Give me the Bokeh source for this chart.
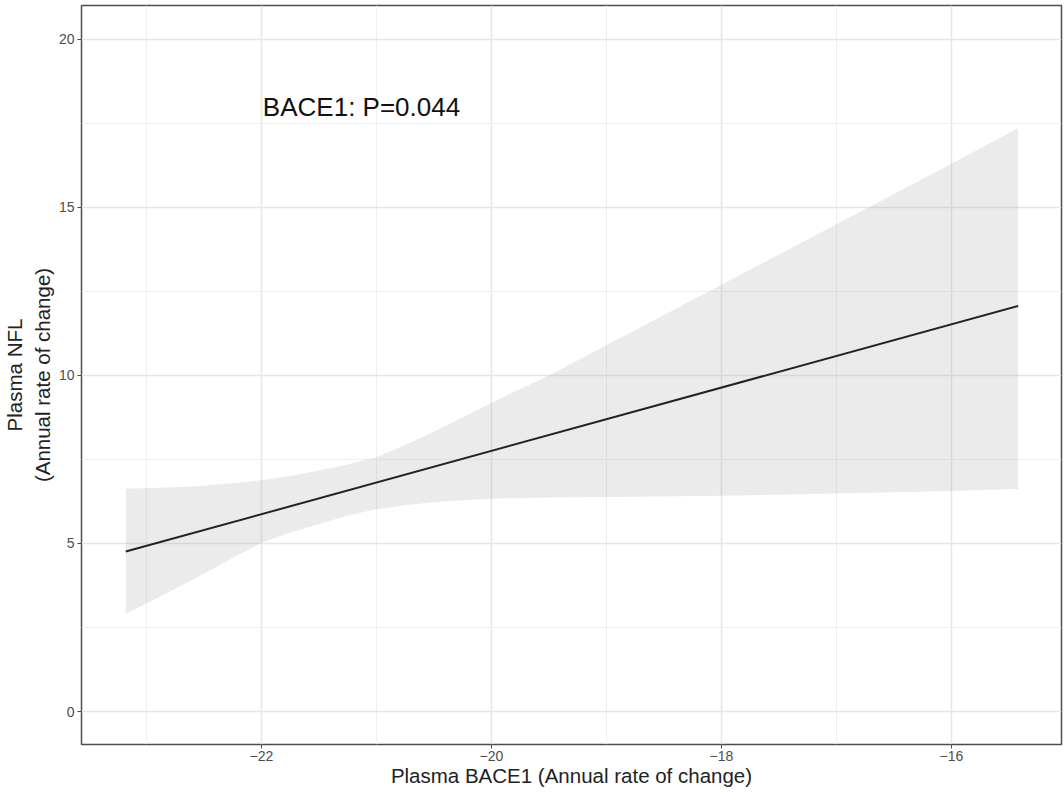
from bokeh.plotting import figure
from bokeh.models import ColumnDataSource, FixedTicker, Range1d, Label
from bokeh.embed import file_html
from bokeh.resources import INLINE

# ---- data ----
band_x = [-23.18, -22.75, -22.5, -22.25, -22.0, -21.75, -21.5, -21.25, -21.0, -20.75, -20.5,
          -20.25, -20.0, -19.5, -19.0, -18.0, -17.0, -16.0, -15.42]
band_upper = [6.63, 6.67, 6.72, 6.79, 6.88, 7.01, 7.17, 7.35, 7.57, 7.93, 8.33,
              8.75, 9.19, 10.0, 10.9, 12.7, 14.5, 16.3, 17.36]
band_lower = [2.91, 3.65, 4.1, 4.57, 5.02, 5.33, 5.58, 5.83, 6.02, 6.14, 6.23,
              6.29, 6.33, 6.37, 6.38, 6.42, 6.49, 6.56, 6.62]

fit_x = [-23.18, -15.42]
fit_y = [4.76, 12.07]

x_ticks = [-22, -20, -18, -16]
x_minor = [-23, -21, -19, -17, -15]
y_ticks = [0, 5, 10, 15, 20]
y_minor = [2.5, 7.5, 12.5, 17.5]

annotation = "BACE1: P=0.044"
x_title = "Plasma BACE1 (Annual rate of change)"
y_title = "Plasma NFL\n(Annual rate of change)"

p = figure(width=1064, height=798, output_backend="svg", toolbar_location=None,
           x_range=Range1d(-23.565, -15.043), y_range=Range1d(-0.982, 21.01),
           min_border_left=81, min_border_right=3, min_border_top=5, min_border_bottom=54)

p.background_fill_color = "white"
p.border_fill_color = "white"
p.outline_line_color = "#4d4d4d"
p.outline_line_width = 1.5

# confidence band
src = ColumnDataSource(dict(x=band_x, upper=band_upper, lower=band_lower))
p.varea(x="x", y1="lower", y2="upper", source=src, fill_color="#999999", fill_alpha=0.2)

# fitted line
p.line(fit_x, fit_y, line_color="#222222", line_width=2)

# annotation text
p.add_layout(Label(x=-21.13, y=18.0, text=annotation, text_align="center", text_baseline="middle",
                   text_font="Liberation Sans", text_font_size="26px", text_color="#111111"))

# axes
for ax, ticks, minor in ((p.xaxis[0], x_ticks, x_minor), (p.yaxis[0], y_ticks, y_minor)):
    ax.ticker = FixedTicker(ticks=ticks, minor_ticks=minor)
    ax.axis_line_color = None
    ax.major_tick_line_color = "#4d4d4d"
    ax.major_tick_line_width = 1
    ax.major_tick_out = 4
    ax.major_tick_in = 0
    ax.minor_tick_line_color = None
    ax.major_label_text_font = "Liberation Sans"
    ax.major_label_text_font_size = "14px"
    ax.major_label_text_color = "#4d4d4d"
    ax.major_label_standoff = 3
    ax.axis_label_text_font = "Liberation Sans"
    ax.axis_label_text_font_size = "20.5px"
    ax.axis_label_text_font_style = "normal"
    ax.axis_label_text_color = "#222222"
    ax.axis_label_standoff = 2

p.xaxis[0].axis_label = x_title
p.yaxis[0].axis_label = y_title
p.xaxis[0].major_label_standoff = 2
p.xaxis[0].axis_label_standoff = 0
p.yaxis[0].major_label_orientation = "horizontal"

# grids
for g in (p.xgrid[0], p.ygrid[0]):
    g.grid_line_color = "#e6e6e6"
    g.grid_line_width = 1.5
    g.minor_grid_line_color = "#efefef"
    g.minor_grid_line_width = 1
p.xgrid[0].ticker = FixedTicker(ticks=x_ticks, minor_ticks=x_minor)
p.ygrid[0].ticker = FixedTicker(ticks=y_ticks, minor_ticks=y_minor)

open("out.html", "w").write(file_html(p, INLINE))
